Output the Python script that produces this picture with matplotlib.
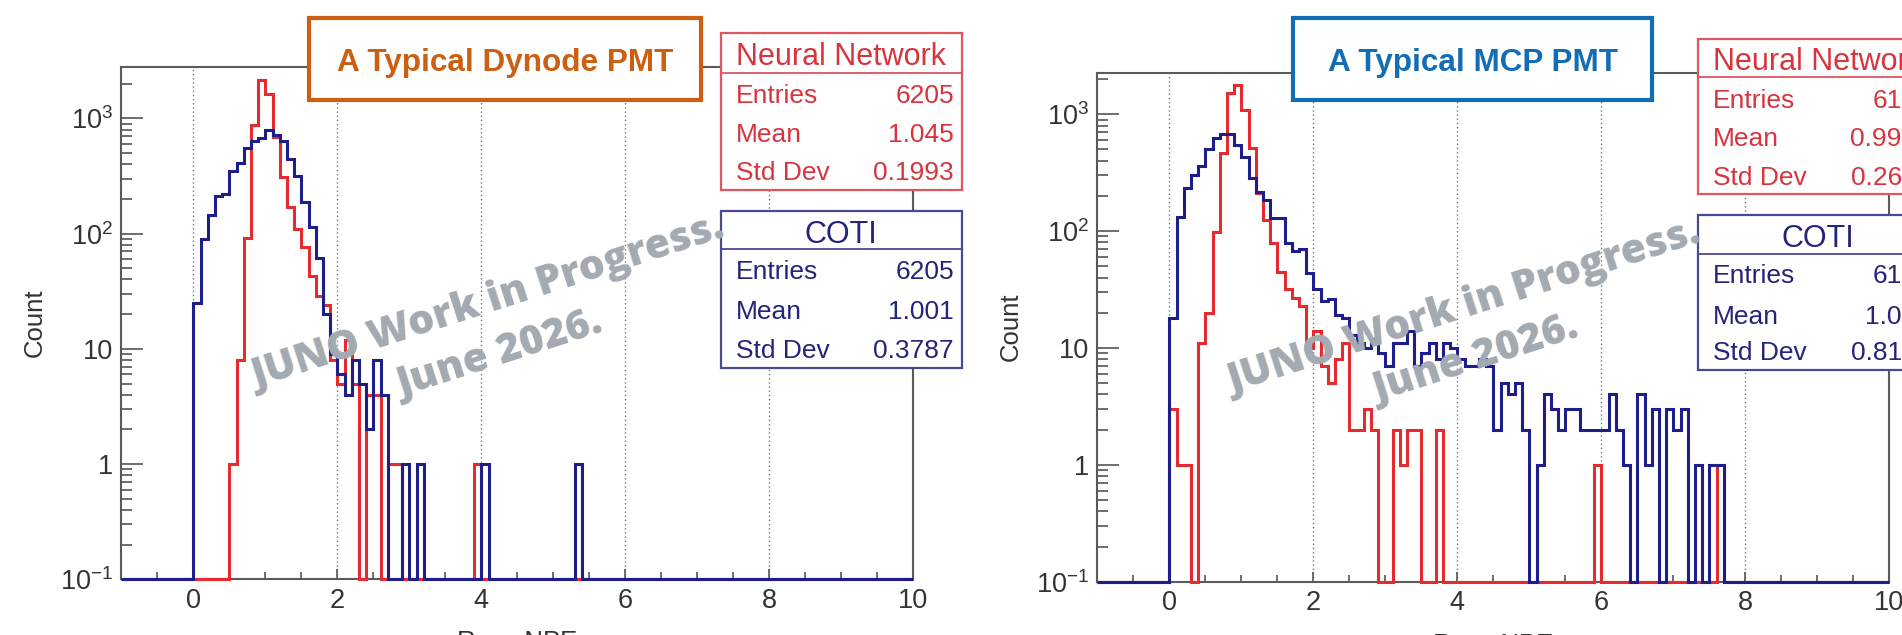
import numpy as np
import matplotlib
matplotlib.use("Agg")
import matplotlib.pyplot as plt
from matplotlib.patches import Rectangle
from matplotlib.ticker import FixedLocator, MultipleLocator, LogLocator, FuncFormatter, NullFormatter

plt.rcParams['font.family'] = ['Liberation Sans', 'DejaVu Sans']
plt.rcParams['mathtext.fontset'] = 'custom'
plt.rcParams['mathtext.rm'] = 'Liberation Sans'
plt.rcParams['mathtext.it'] = 'Liberation Sans'

# histogram counts, bins of 0.1 starting at x = 0.0
dyn_nn = [0, 0, 0, 0, 0, 1, 8, 91, 875, 2153, 1626, 692, 310, 170, 110, 76, 43, 29, 24, 8,
          5, 12, 5, 0, 4, 4, 0, 1, 1, 0, 0, 0, 0, 0, 0, 0, 0, 0, 0, 1]
dyn_coti = [25, 89, 144, 213, 223, 353, 408, 558, 637, 670, 791, 720, 640, 445, 318, 188, 115, 61, 20, 9,
            6, 4, 8, 5, 2, 8, 4, 0, 0, 1, 0, 1, 0, 0, 0, 0, 0, 0, 0, 0,
            1, 0, 0, 0, 0, 0, 0, 0, 0, 0, 0, 0, 0, 1]
mcp_nn = [3, 1, 1, 0, 11, 20, 99, 469, 1510, 1778, 1086, 511, 211, 124, 79, 45, 32, 27, 23, 10,
          14, 7, 5, 8, 11, 2, 2, 3, 2, 0, 0, 2, 1, 2, 2, 0, 0, 2, 0, 0,
          0, 0, 0, 0, 0, 0, 0, 0, 0, 0, 0, 0, 0, 0, 0, 0, 0, 0, 0, 1,
          0, 0, 0, 0, 0, 0, 0, 0, 0, 0, 0, 0, 0, 0, 0, 0, 1]
mcp_coti = [18, 131, 232, 302, 360, 501, 622, 677, 677, 545, 433, 283, 217, 185, 129, 129, 79, 67, 70, 44,
            32, 25, 26, 19, 18, 13, 11, 10, 12, 9, 7, 11, 11, 14, 7, 9, 11, 8, 11, 10,
            8, 7, 7, 8, 7, 2, 5, 4, 5, 2, 0, 1, 4, 3, 2, 3, 3, 2, 2, 2,
            2, 4, 2, 1, 0, 4, 1, 3, 0, 3, 2, 3, 0, 1, 0, 1, 1]

panel_titles = ["A Typical Dynode PMT", "A Typical MCP PMT"]
title_colors = ["#cc5f12", "#136db4"]
nn_stats = [("6205", "1.045", "0.1993"), ("6105", "0.9973", "0.2651")]
coti_stats = [("6205", "1.001", "0.3787"), ("6105", "1.006", "0.8123")]

W, H = 1902, 635
RED = "#e52a30"
NAVY = "#1e1e8a"
NN_EDGE = "#e05560"
NN_TEXT = "#d8343e"
CO_EDGE = "#4a4a92"
CO_TEXT = "#24247a"
WM_COLOR = "#a3aab2"
YMIN = 0.1

edges = np.round(np.linspace(-1, 10, 111), 2)


def full_counts(counts):
    c = np.zeros(110)
    c[10:10 + len(counts)] = counts
    return np.where(c > 0, c, YMIN)


def px_rect(l, t, r, b):
    return [l / W, 1 - b / H, (r - l) / W, (b - t) / H]


def ylabel_fmt(v, pos):
    labels = {0.1: r'$10^{-1}$', 1: '1', 10: '10', 100: r'$10^{2}$', 1000: r'$10^{3}$'}
    for k, s in labels.items():
        if abs(v - k) < 1e-6 * k:
            return s
    return ''


fig = plt.figure(figsize=(W / 100, H / 100), dpi=100)

ax_l = fig.add_axes(px_rect(121.3, 66.7, 913.3, 579.3))
ax_r = fig.add_axes(px_rect(1097.3, 72.7, 1889.3, 581.7))
ytops = [10 ** 3.449, 10 ** 3.355]

for ax, nn, co, ytop in [(ax_l, dyn_nn, dyn_coti, ytops[0]), (ax_r, mcp_nn, mcp_coti, ytops[1])]:
    ax.stairs(full_counts(nn), edges, baseline=YMIN, color=RED, lw=2.2, zorder=3, clip_on=False)
    ax.stairs(full_counts(co), edges, baseline=YMIN, color=NAVY, lw=2.2, zorder=4, clip_on=False)
    ax.set_yscale('log')
    ax.set_xlim(-1, 10)
    ax.set_ylim(YMIN, ytop)
    ax.xaxis.set_major_locator(FixedLocator([0, 2, 4, 6, 8, 10]))
    ax.xaxis.set_minor_locator(MultipleLocator(0.5))
    ax.yaxis.set_major_locator(LogLocator(base=10, numticks=10))
    ax.yaxis.set_minor_locator(LogLocator(base=10, subs=np.arange(2, 10), numticks=20))
    ax.yaxis.set_major_formatter(FuncFormatter(ylabel_fmt))
    ax.yaxis.set_minor_formatter(NullFormatter())
    ax.tick_params(which='both', direction='in', top=False, right=False, color='#555555', width=1.2)
    ax.tick_params(axis='x', which='major', length=7, pad=6, labelsize=19.5, labelcolor='#333333')
    ax.tick_params(axis='x', which='minor', length=5)
    ax.tick_params(axis='y', which='major', length=16, pad=6, labelsize=19.5, labelcolor='#333333')
    ax.tick_params(axis='y', which='minor', length=8)
    ax.xaxis.grid(True, which='major', color='#777777', lw=1.0, ls=(0, (1, 2)))
    for sp in ax.spines.values():
        sp.set_color('#5a5a5a')
        sp.set_linewidth(1.5)
    ax.set_ylabel('Count', fontsize=18.5, color='#333333', labelpad=9.5)
    ax.set_xlabel('Reco NPE', fontsize=18.5, color='#333333', labelpad=12)

# overlay in pixel coordinates for boxes and watermark
ov = fig.add_axes([0, 0, 1, 1], zorder=10)
ov.set_xlim(0, W)
ov.set_ylim(H, 0)
ov.axis('off')

# watermark (baseline anchors)
wm_pos = [((491, 312.5), (503, 365)), ((1467, 317.5), (1479, 370))]
for (p1, p2) in wm_pos:
    ov.text(p1[0], p1[1], "JUNO Work in Progress.", fontsize=29.5, fontweight=800,
            family=['Open Sans', 'DejaVu Sans'], color=WM_COLOR, rotation=17.8,
            rotation_mode='anchor', ha='center', va='baseline')
    ov.text(p2[0], p2[1], "June 2026.", fontsize=29.5, fontweight=800,
            family=['Open Sans', 'DejaVu Sans'], color=WM_COLOR, rotation=17.8,
            rotation_mode='anchor', ha='center', va='baseline')

# title boxes
title_boxes = [(309, 18, 701, 99.5), (1293, 18, 1652, 100.4)]
for (l, t, r, b), txt, col in zip(title_boxes, panel_titles, title_colors):
    ov.add_patch(Rectangle((l, t), r - l, b - t, fc='white', ec=col, lw=3.0, clip_on=False))
    ov.text((l + r) / 2, 71, txt, fontsize=22.7, fontweight='bold', color=col,
            ha='center', va='baseline')


def stat_box(x0, top, line_y, bottom, width, title, vals, ec, tc, title_base, row_bases):
    ov.add_patch(Rectangle((x0, top), width, bottom - top, fc='white', ec=ec, lw=1.6, clip_on=False))
    ov.plot([x0, x0 + width], [line_y, line_y], color=ec, lw=1.3, clip_on=False)
    ov.text(x0 + width / 2, title_base, title, fontsize=22, color=tc, ha='center', va='baseline')
    for name, v, yb in zip(["Entries", "Mean", "Std Dev"], vals, row_bases):
        ov.text(x0 + 15, yb, name, fontsize=19, color=tc, ha='left', va='baseline')
        ov.text(x0 + width - 8, yb, v, fontsize=19, color=tc, ha='right', va='baseline')


box_w = 241.5
stat_box(720.5, 33, 73, 190, box_w, "Neural Network", nn_stats[0], NN_EDGE, NN_TEXT, 65, [103, 142, 180])
stat_box(720.5, 211, 249, 368, box_w, "COTI", coti_stats[0], CO_EDGE, CO_TEXT, 243, [279, 319, 358])
stat_box(1697.6, 38.5, 77, 194, box_w, "Neural Network", nn_stats[1], NN_EDGE, NN_TEXT, 70, [108, 146, 185])
stat_box(1697.6, 214.6, 254, 370, box_w, "COTI", coti_stats[1], CO_EDGE, CO_TEXT, 247, [283, 324, 360])

fig.savefig("out.png", dpi=100)
